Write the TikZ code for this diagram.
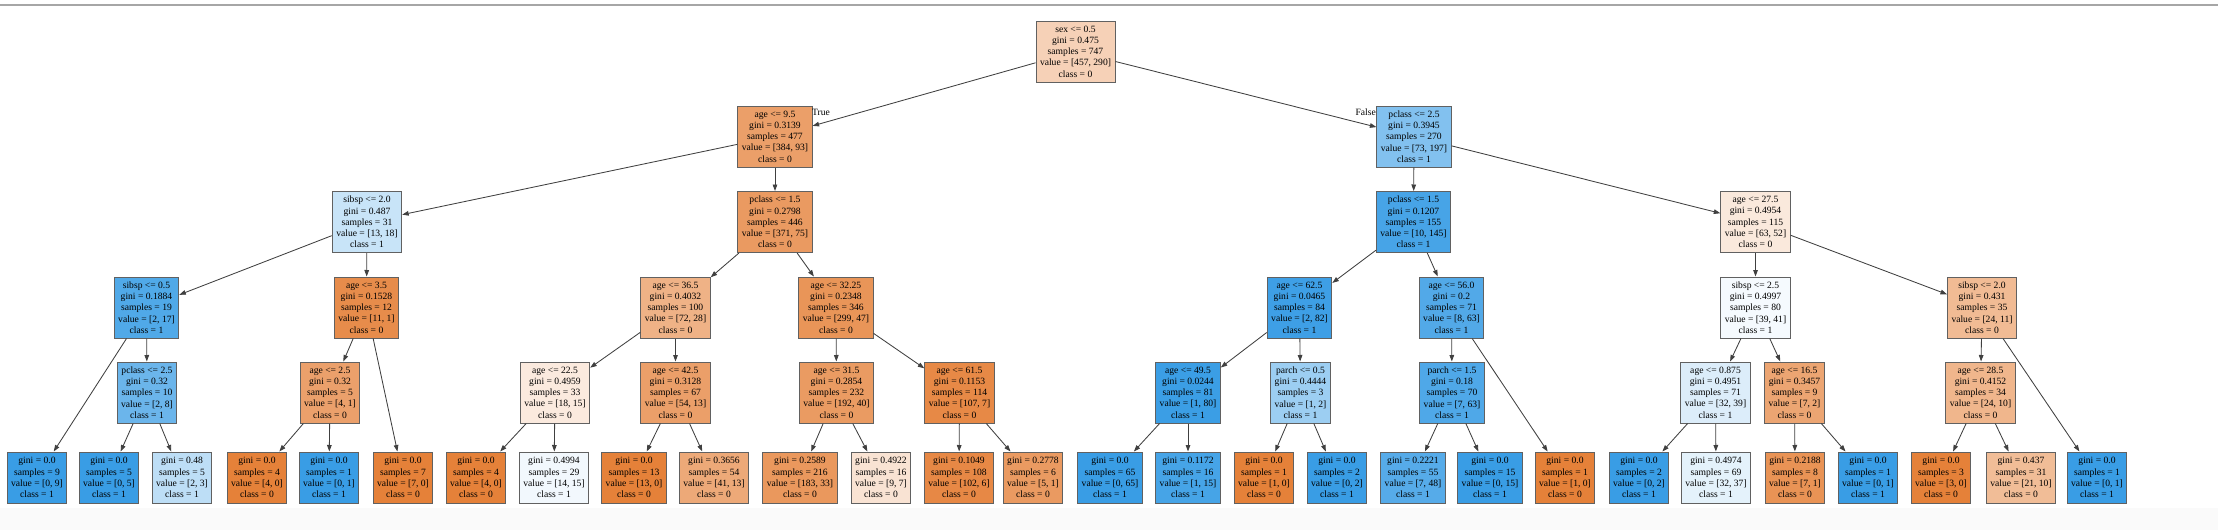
\documentclass[tikz,border=0pt]{standalone}
\usepackage{fontspec}
\setmainfont{Liberation Serif}
\usetikzlibrary{arrows.meta}
\definecolor{Oc}{RGB}{229,129,57}
\definecolor{Bc}{RGB}{57,157,229}
\tikzset{
  tn/.style={draw=black!62, line width=1pt, rectangle, align=center, inner xsep=4pt, inner ysep=2pt,
    font=\fontsize{9.6}{11.25}\selectfont, text=black},
  inode/.style={tn, minimum height=61pt},
  leaf/.style={tn, minimum height=51pt},
  edge/.style={draw=black!75, line width=0.85pt, -{Triangle[length=6.5pt,width=4.6pt]}},
  elabel/.style={font=\fontsize{9.6}{11.25}\selectfont, inner sep=0pt}
}
\begin{document}
\begin{tikzpicture}[x=1pt,y=-1pt]
\useasboundingbox (0,0) rectangle (2218,530);
\fill[black!2] (0,508) rectangle (2218,530);
\draw[black!35, line width=2.5pt] (0,5) -- (2218,5);
% level 0
\node[inode, fill=Oc!36.5!white] (r) at (1075.5,51.5) {sex <= 0.5\\gini = 0.475\\samples = 747\\value = [457, 290]\\class = 0};
% level 1
\node[inode, fill=Oc!75.8!white] (a) at (775,136.5) {age <= 9.5\\gini = 0.3139\\samples = 477\\value = [384, 93]\\class = 0};
\node[inode, fill=Bc!62.9!white] (b) at (1414,136.5) {pclass <= 2.5\\gini = 0.3945\\samples = 270\\value = [73, 197]\\class = 1};
% level 2
\node[inode, fill=Bc!27.8!white] (aa) at (367,222) {sibsp <= 2.0\\gini = 0.487\\samples = 31\\value = [13, 18]\\class = 1};
\node[inode, fill=Oc!79.8!white] (ab) at (775,222) {pclass <= 1.5\\gini = 0.2798\\samples = 446\\value = [371, 75]\\class = 0};
\node[inode, fill=Bc!93.1!white] (ba) at (1413.5,222) {pclass <= 1.5\\gini = 0.1207\\samples = 155\\value = [10, 145]\\class = 1};
\node[inode, fill=Oc!17.5!white] (bb) at (1755.5,222) {age <= 27.5\\gini = 0.4954\\samples = 115\\value = [63, 52]\\class = 0};
% level 3
\node[inode, fill=Bc!88.2!white] (aaa) at (146.5,307.5) {sibsp <= 0.5\\gini = 0.1884\\samples = 19\\value = [2, 17]\\class = 1};
\node[inode, fill=Oc!90.9!white] (aab) at (366.5,307.5) {age <= 3.5\\gini = 0.1528\\samples = 12\\value = [11, 1]\\class = 0};
\node[inode, fill=Oc!61.1!white] (aba) at (675.5,307.5) {age <= 36.5\\gini = 0.4032\\samples = 100\\value = [72, 28]\\class = 0};
\node[inode, fill=Oc!84.3!white] (abb) at (836,307.5) {age <= 32.25\\gini = 0.2348\\samples = 346\\value = [299, 47]\\class = 0};
\node[inode, fill=Bc!97.6!white] (baa) at (1299.5,307.5) {age <= 62.5\\gini = 0.0465\\samples = 84\\value = [2, 82]\\class = 1};
\node[inode, fill=Bc!87.3!white] (bab) at (1451.5,307.5) {age <= 56.0\\gini = 0.2\\samples = 71\\value = [8, 63]\\class = 1};
\node[inode, fill=Bc!4.9!white] (bba) at (1755.5,307.5) {sibsp <= 2.5\\gini = 0.4997\\samples = 80\\value = [39, 41]\\class = 1};
\node[inode, fill=Oc!54.2!white] (bbb) at (1982,307.5) {sibsp <= 2.0\\gini = 0.431\\samples = 35\\value = [24, 11]\\class = 0};
% level 4
\node[inode, fill=Bc!75!white] (aaab) at (147,392.5) {pclass <= 2.5\\gini = 0.32\\samples = 10\\value = [2, 8]\\class = 1};
\node[inode, fill=Oc!75!white] (aaba) at (330,392.5) {age <= 2.5\\gini = 0.32\\samples = 5\\value = [4, 1]\\class = 0};
\node[inode, fill=Oc!16.7!white] (abaa) at (555,392.5) {age <= 22.5\\gini = 0.4959\\samples = 33\\value = [18, 15]\\class = 0};
\node[inode, fill=Oc!75.9!white] (abab) at (675.5,392.5) {age <= 42.5\\gini = 0.3128\\samples = 67\\value = [54, 13]\\class = 0};
\node[inode, fill=Oc!79.2!white] (abba) at (836.5,392.5) {age <= 31.5\\gini = 0.2854\\samples = 232\\value = [192, 40]\\class = 0};
\node[inode, fill=Oc!93.5!white] (abbb) at (959.5,392.5) {age <= 61.5\\gini = 0.1153\\samples = 114\\value = [107, 7]\\class = 0};
\node[inode, fill=Bc!98.75!white] (baaa) at (1188,392.5) {age <= 49.5\\gini = 0.0244\\samples = 81\\value = [1, 80]\\class = 1};
\node[inode, fill=Bc!50!white] (baab) at (1300.5,392.5) {parch <= 0.5\\gini = 0.4444\\samples = 3\\value = [1, 2]\\class = 1};
\node[inode, fill=Bc!88.9!white] (baba) at (1452,392.5) {parch <= 1.5\\gini = 0.18\\samples = 70\\value = [7, 63]\\class = 1};
\node[inode, fill=Bc!17.9!white] (bbaa) at (1715.5,392.5) {age <= 0.875\\gini = 0.4951\\samples = 71\\value = [32, 39]\\class = 1};
\node[inode, fill=Oc!71.4!white] (bbab) at (1794.5,392.5) {age <= 16.5\\gini = 0.3457\\samples = 9\\value = [7, 2]\\class = 0};
\node[inode, fill=Oc!58.3!white] (bbba) at (1980.5,392.5) {age <= 28.5\\gini = 0.4152\\samples = 34\\value = [24, 10]\\class = 0};
% leaves
\node[leaf, fill=Bc] (l1) at (37,477.5) {gini = 0.0\\samples = 9\\value = [0, 9]\\class = 1};
\node[leaf, fill=Bc] (l2) at (109,477.5) {gini = 0.0\\samples = 5\\value = [0, 5]\\class = 1};
\node[leaf, fill=Bc!33.3!white] (l3) at (182,477.5) {gini = 0.48\\samples = 5\\value = [2, 3]\\class = 1};
\node[leaf, fill=Oc] (l4) at (257,477.5) {gini = 0.0\\samples = 4\\value = [4, 0]\\class = 0};
\node[leaf, fill=Bc] (l5) at (329,477.5) {gini = 0.0\\samples = 1\\value = [0, 1]\\class = 1};
\node[leaf, fill=Oc] (l6) at (403,477.5) {gini = 0.0\\samples = 7\\value = [7, 0]\\class = 0};
\node[leaf, fill=Oc] (l7) at (476,477.5) {gini = 0.0\\samples = 4\\value = [4, 0]\\class = 0};
\node[leaf, fill=Bc!6.7!white] (l8) at (554,477.5) {gini = 0.4994\\samples = 29\\value = [14, 15]\\class = 1};
\node[leaf, fill=Oc] (l9) at (634,477.5) {gini = 0.0\\samples = 13\\value = [13, 0]\\class = 0};
\node[leaf, fill=Oc!68.3!white] (l10) at (714,477.5) {gini = 0.3656\\samples = 54\\value = [41, 13]\\class = 0};
\node[leaf, fill=Oc!82!white] (l11) at (800,477.5) {gini = 0.2589\\samples = 216\\value = [183, 33]\\class = 0};
\node[leaf, fill=Oc!22.2!white] (l12) at (881,477.5) {gini = 0.4922\\samples = 16\\value = [9, 7]\\class = 0};
\node[leaf, fill=Oc!94.1!white] (l13) at (959,477.5) {gini = 0.1049\\samples = 108\\value = [102, 6]\\class = 0};
\node[leaf, fill=Oc!80!white] (l14) at (1033,477.5) {gini = 0.2778\\samples = 6\\value = [5, 1]\\class = 0};
\node[leaf, fill=Bc] (l15) at (1110,477.5) {gini = 0.0\\samples = 65\\value = [0, 65]\\class = 1};
\node[leaf, fill=Bc!93.3!white] (l16) at (1188,477.5) {gini = 0.1172\\samples = 16\\value = [1, 15]\\class = 1};
\node[leaf, fill=Oc] (l17) at (1264,477.5) {gini = 0.0\\samples = 1\\value = [1, 0]\\class = 0};
\node[leaf, fill=Bc] (l18) at (1337,477.5) {gini = 0.0\\samples = 2\\value = [0, 2]\\class = 1};
\node[leaf, fill=Bc!85.4!white] (l19) at (1413,477.5) {gini = 0.2221\\samples = 55\\value = [7, 48]\\class = 1};
\node[leaf, fill=Bc] (l20) at (1490,477.5) {gini = 0.0\\samples = 15\\value = [0, 15]\\class = 1};
\node[leaf, fill=Oc] (l21) at (1565,477.5) {gini = 0.0\\samples = 1\\value = [1, 0]\\class = 0};
\node[leaf, fill=Bc] (l22) at (1639,477.5) {gini = 0.0\\samples = 2\\value = [0, 2]\\class = 1};
\node[leaf, fill=Bc!13.5!white] (l23) at (1716,477.5) {gini = 0.4974\\samples = 69\\value = [32, 37]\\class = 1};
\node[leaf, fill=Oc!85.7!white] (l24) at (1795,477.5) {gini = 0.2188\\samples = 8\\value = [7, 1]\\class = 0};
\node[leaf, fill=Bc] (l25) at (1868,477.5) {gini = 0.0\\samples = 1\\value = [0, 1]\\class = 1};
\node[leaf, fill=Oc] (l26) at (1941,477.5) {gini = 0.0\\samples = 3\\value = [3, 0]\\class = 0};
\node[leaf, fill=Oc!52.4!white] (l27) at (2021,477.5) {gini = 0.437\\samples = 31\\value = [21, 10]\\class = 0};
\node[leaf, fill=Bc] (l28) at (2097,477.5) {gini = 0.0\\samples = 1\\value = [0, 1]\\class = 1};
% edges
\foreach \p/\c in {r/a, r/b, a/aa, a/ab, b/ba, b/bb, aa/aaa, aa/aab, ab/aba, ab/abb,
  ba/baa, ba/bab, bb/bba, bb/bbb, aaa/l1, aaa/aaab, aab/aaba, aab/l6, aba/abaa, aba/abab,
  abb/abba, abb/abbb, baa/baaa, baa/baab, bab/baba, bab/l21, bba/bbaa, bba/bbab, bbb/bbba, bbb/l28,
  aaab/l2, aaab/l3, aaba/l4, aaba/l5, abaa/l7, abaa/l8, abab/l9, abab/l10, abba/l11, abba/l12,
  abbb/l13, abbb/l14, baaa/l15, baaa/l16, baab/l17, baab/l18, baba/l19, baba/l20,
  bbaa/l22, bbaa/l23, bbab/l24, bbab/l25, bbba/l26, bbba/l27}
  \draw[edge] (\p) -- (\c);
\node[elabel, anchor=south west] (tl) at (812,116) {True};
\node[elabel, anchor=south east] (fl) at (1376,116) {False};
\end{tikzpicture}
\end{document}
